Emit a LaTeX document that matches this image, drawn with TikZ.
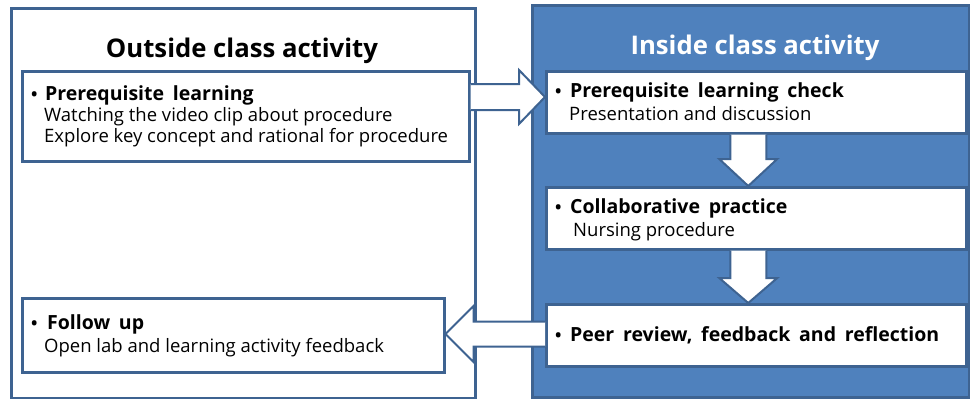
\documentclass[tikz,border=0pt]{standalone}
\usepackage{fontspec}
\setmainfont{Open Sans}
\usetikzlibrary{calc}
\definecolor{edge}{HTML}{3E6391}
\definecolor{panel}{HTML}{4F81BD}
\newcommand\hdspacing{\spaceskip=0.45em\relax}
\tikzset{
  panelbox/.style={draw=edge, line width=2.5pt, inner sep=0pt, anchor=north west},
  itembox/.style={draw=edge, line width=2.5pt, fill=white, inner sep=0pt, anchor=north west},
  barrow/.style={draw=edge, line width=2pt, fill=white, line join=miter},
  titletext/.style={font=\fontsize{25.7}{30}\selectfont\bfseries, inner sep=0pt, anchor=base},
  headtext/.style={font=\fontsize{19.5}{23}\selectfont\bfseries\hdspacing, inner sep=0pt, anchor=base west},
  bodytext/.style={font=\fontsize{18.5}{22}\selectfont, inner sep=0pt, anchor=base west},
  bullettext/.style={font=\fontsize{17}{20}\selectfont\bfseries, inner sep=0pt, anchor=base west},
}
\begin{document}
\begin{tikzpicture}[x=1pt,y=-1pt]
\useasboundingbox (0,0) rectangle (970,399);
% panels
\node[panelbox, fill=white, minimum width=464pt, minimum height=390pt] (outer) at (10,7) {};
\node[panelbox, fill=panel, minimum width=437pt, minimum height=392pt] (inner) at (531,4) {};
\node[titletext] (t1) at (242,57) {Outside class activity};
\node[titletext, text=white] (t2) at (755,54) {Inside class activity};
% boxes
\node[itembox, minimum width=447pt, minimum height=90pt] (A) at (21,70) {};
\node[itembox, minimum width=420pt, minimum height=62pt] (B) at (545,70) {};
\node[itembox, minimum width=420pt, minimum height=62pt] (C) at (545,186) {};
\node[itembox, minimum width=420pt, minimum height=62pt] (D) at (545,303) {};
\node[itembox, minimum width=422pt, minimum height=74pt] (E) at (21,297) {};
% texts A
\node[bullettext] (a0) at (31,100) {•};
\node[headtext] (a1) at (45,100) {Prerequisite learning};
\node[bodytext] (a2) at (44,121) {Watching the video clip about procedure};
\node[bodytext] (a3) at (44,142) {Explore key concept and rational for procedure};
% texts B
\node[bullettext] (b0) at (555,97) {•};
\node[headtext] (b1) at (570,97) {Prerequisite learning check};
\node[bodytext] (b2) at (569,120) {Presentation and discussion};
% texts C
\node[bullettext] (c0) at (555,213) {•};
\node[headtext] (c1) at (570,213) {Collaborative practice};
\node[bodytext] (c2) at (573,236) {Nursing procedure};
% texts D
\node[bullettext] (d0) at (555,341) {•};
\node[headtext] (d1) at (570,341) {Peer review, feedback and reflection};
% texts E
\node[bullettext] (e0) at (31,329) {•};
\node[headtext] (e1) at (47,329) {Follow up};
\node[bodytext] (e2) at (44,352) {Open lab and learning activity feedback};
% arrow A -> B
\coordinate (p1) at (A.east |- 0,97);
\coordinate (q1) at (B.west |- 0,97);
\draw[barrow] ($(p1)+(0,-13)$) -- ($(q1)+(-26,-13)$) -- ($(q1)+(-26,-27)$) -- (q1)
  -- ($(q1)+(-26,27)$) -- ($(q1)+(-26,13)$) -- ($(p1)+(0,13)$);
% arrow B -> C
\coordinate (p2) at ($(B.south)+(-8,0)$);
\coordinate (q2) at ($(C.north)+(-8,0)$);
\draw[barrow] ($(p2)+(-18,0)$) -- ($(q2)+(-18,-27)$) -- ($(q2)+(-29,-27)$) -- (q2)
  -- ($(q2)+(29,-27)$) -- ($(q2)+(18,-27)$) -- ($(p2)+(18,0)$);
% arrow C -> D
\coordinate (p3) at ($(C.south)+(-8,0)$);
\coordinate (q3) at ($(D.north)+(-8,0)$);
\draw[barrow] ($(p3)+(-18,0)$) -- ($(q3)+(-18,-25)$) -- ($(q3)+(-29,-25)$) -- (q3)
  -- ($(q3)+(29,-25)$) -- ($(q3)+(18,-25)$) -- ($(p3)+(18,0)$);
% arrow D -> E
\coordinate (p4) at (D.west |- 0,334);
\coordinate (q4) at (E.east |- 0,334);
\draw[barrow] ($(p4)+(0,-12.5)$) -- ($(q4)+(28,-12.5)$) -- ($(q4)+(28,-28)$) -- (q4)
  -- ($(q4)+(28,28)$) -- ($(q4)+(28,12.5)$) -- ($(p4)+(0,12.5)$);
\end{tikzpicture}
\end{document}
